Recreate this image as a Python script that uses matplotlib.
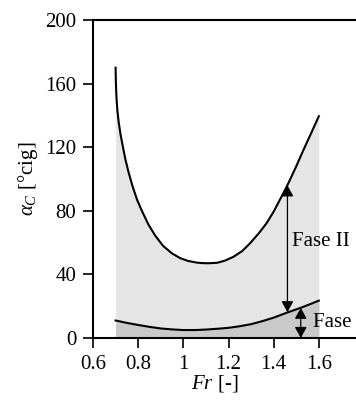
import matplotlib
matplotlib.use('Agg')
import matplotlib.pyplot as plt

plt.rcParams['font.family'] = ['Liberation Serif', 'DejaVu Serif']
plt.rcParams['mathtext.fontset'] = 'custom'
plt.rcParams['mathtext.rm'] = 'Liberation Serif'
plt.rcParams['mathtext.it'] = 'Liberation Serif:italic'

# Upper boundary (end of phase II)
fr_upper = [0.700, 0.7015, 0.704, 0.708, 0.714, 0.722, 0.732, 0.744, 0.758, 0.775,
            0.795, 0.818, 0.845, 0.875, 0.910, 0.950, 0.985, 1.020, 1.060, 1.085,
            1.110, 1.150, 1.185, 1.221, 1.260, 1.295, 1.335, 1.369, 1.400, 1.427,
            1.450, 1.472, 1.500, 1.531, 1.565, 1.600]
alpha_upper = [170, 160, 151, 143, 135.5, 128, 120.5, 112, 104, 95.5,
               87, 79.5, 71.5, 64.5, 58, 53.2, 50.3, 48.5, 47.4, 47.1,
               47, 47.3, 48.7, 51, 54.6, 59.5, 66, 72.3, 79.5, 86.8,
               93, 99.4, 108, 118, 128.5, 139.5]

# Lower boundary (end of phase I)
fr_lower = [0.70, 0.75, 0.80, 0.85, 0.90, 0.95, 1.00, 1.05, 1.10, 1.15,
            1.20, 1.25, 1.30, 1.35, 1.40, 1.46, 1.52, 1.56, 1.60]
alpha_lower = [11, 9.5, 8.2, 7, 6, 5.4, 5, 5.0, 5.3, 5.8,
               6.4, 7.4, 8.7, 10.6, 12.8, 16, 19, 21.2, 23.5]

# arrows: (Fr, bottom, top)
arrow_fase2 = (1.461, 16.2, 96)
arrow_fase1 = (1.52, 0, 19)

fig = plt.figure(figsize=(3.56, 4.03), dpi=100)
ax = fig.add_axes([93 / 356, 65 / 403, 271 / 356, 318 / 403])

ax.fill_between(fr_lower, 0, alpha_lower, color='#c9c9c9', lw=0, zorder=1)
ax.fill_between(fr_upper, 0, alpha_upper, color='#e5e5e5', lw=0, zorder=0)
ax.plot(fr_upper, alpha_upper, color='black', lw=1.5, zorder=3,
        solid_joinstyle='round')
ax.plot(fr_lower, alpha_lower, color='black', lw=1.5, zorder=3,
        solid_joinstyle='round')

aprops = dict(arrowstyle='<|-|>,head_length=0.55,head_width=0.3', color='black',
              lw=0.9, shrinkA=0, shrinkB=0, mutation_scale=12)
x2, b2, t2 = arrow_fase2
ax.annotate('', xy=(x2, t2), xytext=(x2, b2), arrowprops=aprops, zorder=4)
x1, b1, t1 = arrow_fase1
ax.annotate('', xy=(x1, t1), xytext=(x1, b1), arrowprops=aprops, zorder=4)

fs = 15
ax.text(1.48, 61, 'Fase II', fontsize=fs, va='center', ha='left')
ax.text(1.573, 10, 'Fase I', fontsize=fs, va='center', ha='left')

ax.set_xlim(0.6, 1.8)
ax.set_ylim(0, 200)
ax.set_xticks([0.6, 0.8, 1.0, 1.2, 1.4, 1.6])
ax.set_xticklabels(['0.6', '0.8', '1', '1.2', '1.4', '1.6'])
ax.set_yticks([0, 40, 80, 120, 160, 200])

for s in ['left', 'bottom', 'top']:
    ax.spines[s].set_linewidth(1.5)
ax.spines['right'].set_visible(False)
ax.tick_params(direction='out', length=7, width=1.2, labelsize=fs, pad=5)

ax.set_ylabel(r'$\alpha_C$ [°cig]', fontsize=fs, labelpad=4)
ax.set_xlabel(r'$Fr$ [-]', fontsize=fs)
ax.xaxis.set_label_coords(0.45, -0.11)

fig.savefig('out.png', dpi=100)
